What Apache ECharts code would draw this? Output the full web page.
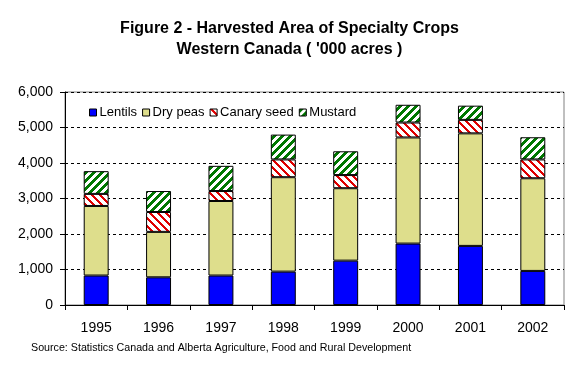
<!DOCTYPE html>
<html>
<head>
<meta charset="utf-8">
<script src="https://cdn.jsdelivr.net/npm/echarts@6/dist/echarts.min.js"></script>
<style>
html,body{margin:0;padding:0;background:#fff;}
#c{width:579px;height:372px;}
</style>
</head>
<body>
<div id="c"></div>
<script>
// ---- data ----
var years = ['1995','1996','1997','1998','1999','2000','2001','2002'];
var lentils    = [830, 780, 830, 940, 1250, 1730, 1665, 960];
var dryPeas    = [1960, 1280, 2100, 2660, 2040, 2990, 3170, 2610];
var canarySeed = [340, 560, 280, 500, 370, 420, 380, 530];
var mustard    = [640, 590, 710, 700, 670, 500, 400, 625];
var seriesNames = ['Lentils', 'Dry peas', 'Canary seed', 'Mustard'];
var yTicks = [0, 1000, 2000, 3000, 4000, 5000, 6000];

function stripe(color, dir, thick) {
  var c = document.createElement('canvas');
  c.width = 8; c.height = 8;
  var ctx = c.getContext('2d');
  ctx.fillStyle = '#ffffff';
  ctx.fillRect(0, 0, 8, 8);
  ctx.fillStyle = color;
  for (var x = 0; x < 8; x++) {
    for (var y = 0; y < 8; y++) {
      var v = dir > 0 ? (x + y) % 8 : ((x - y) % 8 + 8) % 8;
      if (v < thick) ctx.fillRect(x, y, 1, 1);
    }
  }
  return { image: c, repeat: 'repeat' };
}

var chart = echarts.init(document.getElementById('c'), null, { renderer: 'canvas' });
var font = 'Liberation Sans, Arial, sans-serif';
var border = { borderColor: '#000', borderWidth: 1 };

function mkSeries(name, data, color) {
  return {
    name: name, type: 'bar', stack: 'total', data: data,
    barWidth: '40%',
    itemStyle: Object.assign({ color: color }, border),
    emphasis: { disabled: true }
  };
}

chart.setOption({
  animation: false,
  backgroundColor: '#fff',
  title: {
    text: 'Figure 2 - Harvested Area of Specialty Crops\nWestern Canada ( \'000 acres )',
    left: 'center', top: 13,
    textStyle: { fontFamily: font, fontSize: 16, fontWeight: 'bold', color: '#000', lineHeight: 21 }
  },
  legend: {
    data: seriesNames,
    left: 84, top: 101,
    itemWidth: 7, itemHeight: 7, itemGap: 5,
    icon: 'rect',
    textStyle: { fontFamily: font, fontSize: 13, color: '#000', padding: [0, 0, 0, -2] },
    itemStyle: { borderColor: '#000', borderWidth: 1 }
  },
  grid: { left: 65, right: 15, top: 92, bottom: 67, show: true, borderColor: '#808080', borderWidth: 1 },
  xAxis: {
    type: 'category', data: years,
    axisLine: { lineStyle: { color: '#000' } },
    axisTick: { show: true, length: 5, lineStyle: { color: '#000' } },
    axisLabel: { fontFamily: font, fontSize: 14, color: '#000', margin: 16 }
  },
  yAxis: {
    type: 'value', min: yTicks[0], max: yTicks[yTicks.length - 1], interval: 1000,
    axisLine: { show: true, lineStyle: { color: '#000' } },
    axisTick: { show: true, length: 5, lineStyle: { color: '#000' } },
    axisLabel: {
      fontFamily: font, fontSize: 14, color: '#000', margin: 12,
      formatter: function (v) { return v.toLocaleString('en-US'); }
    },
    splitLine: { show: true, lineStyle: { color: '#000', type: [3, 3], width: 1 } }
  },
  graphic: [{
    type: 'text', left: 31, top: 343,
    style: { text: 'Source: Statistics Canada and Alberta Agriculture, Food and Rural Development',
      font: '10.7px Liberation Sans, Arial, sans-serif', fill: '#000' }
  }],
  series: [
    mkSeries(seriesNames[0], lentils, '#0000ff'),
    mkSeries(seriesNames[1], dryPeas, '#dede8c'),
    mkSeries(seriesNames[2], canarySeed, stripe('#e00000', -1, 3)),
    mkSeries(seriesNames[3], mustard, stripe('#007800', 1, 4))
  ]
});
</script>
</body>
</html>
